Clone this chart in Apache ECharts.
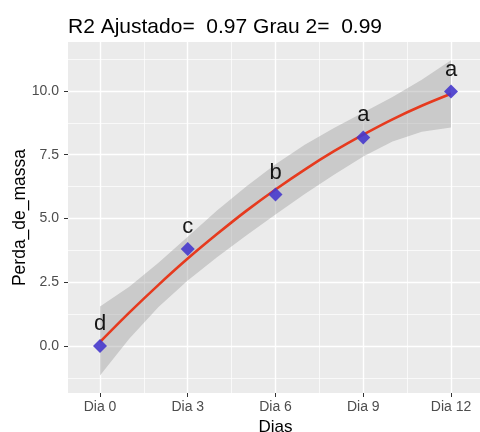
<!DOCTYPE html>
<html>
<head>
<meta charset="utf-8">
<script src="https://cdn.jsdelivr.net/npm/echarts@6/dist/echarts.min.js"></script>
<style>
    html, body { margin: 0; padding: 0; background: #fff; }
    #chart { width: 480px; height: 432px; }
</style>
</head>
<body>
<div id="chart"></div>
<script>
// Observed means per day
const dayLabels = ['Dia 0', 'Dia 3', 'Dia 6', 'Dia 9', 'Dia 12'];
const days = [0, 3, 6, 9, 12];
const massLoss = [0, 3.81, 5.94, 8.18, 9.98];
const groupLetters = ['d', 'c', 'b', 'a', 'a'];

// Fitted curve and confidence band
const fitDays = [0, 1, 2, 3, 4, 5, 6, 7, 8, 9, 10, 11, 12];
const fitValues = [0.16, 1.31, 2.40, 3.43, 4.39, 5.30, 6.14, 6.92, 7.64, 8.29, 8.89, 9.42, 9.89];
const bandLower = [-1.15, 0.29, 1.53, 2.57, 3.48, 4.33, 5.16, 5.96, 6.72, 7.43, 8.02, 8.40, 8.57];
const bandUpper = [1.55, 2.33, 3.27, 4.29, 5.31, 6.26, 7.13, 7.89, 8.55, 9.16, 9.76, 10.44, 11.20];

// Axis ticks
const yTicks = [0, 2.5, 5, 7.5, 10];
const yMinorTicks = [-1.25, 1.25, 3.75, 6.25, 8.75, 11.25];
const xMinorTicks = [1.5, 4.5, 7.5, 10.5];

const FONT = 'Liberation Sans, Arial, sans-serif';
const X_MIN = -1.094, X_MAX = 13.094;
const Y_MIN = -1.84, Y_MAX = 11.92;

const chart = echarts.init(document.getElementById('chart'));

const pair = (xs, ys) => xs.map((x, i) => [x, ys[i]]);

// Confidence ribbon: one polygon, upper edge then lower edge reversed
function renderBand(params, api) {
    const upper = fitDays.map((d, i) => api.coord([d, bandUpper[i]]));
    const lower = fitDays.map((d, i) => api.coord([d, bandLower[i]])).reverse();
    return {
        type: 'polygon',
        shape: { points: upper.concat(lower) },
        style: { fill: 'rgba(153,153,153,0.4)' }
    };
}

const option = {
    animation: false,
    title: {
        text: 'R2 Ajustado=  0.97 Grau 2=  0.99',
        left: 63,
        top: 12,
        textStyle: { fontFamily: FONT, fontSize: 21, fontWeight: 'normal', color: '#000' }
    },
    grid: {
        left: 68, right: -3, top: 42, bottom: 39,
        outerBoundsMode: 'none',
        show: true, backgroundColor: '#EBEBEB', borderWidth: 0
    },
    xAxis: [{
        type: 'value',
        min: X_MIN, max: X_MAX,
        name: 'Dias',
        nameLocation: 'middle',
        nameGap: 26,
        nameMoveOverlap: false,
        nameTextStyle: { fontFamily: FONT, fontSize: 17, color: '#000' },
        axisLine: { show: false, onZero: false },
        axisTick: { show: true, length: 4, customValues: days, lineStyle: { color: '#333', width: 1 } },
        axisLabel: {
            customValues: days,
            margin: 7,
            fontFamily: FONT, fontSize: 14, color: '#4D4D4D',
            formatter: v => dayLabels[days.indexOf(v)] || ''
        },
        splitLine: { show: true, lineStyle: { color: '#fff', width: 1.4 } }
    }, {
        type: 'value',
        min: X_MIN, max: X_MAX,
        position: 'top',
        axisLine: { show: false, onZero: false },
        axisTick: { show: false, customValues: xMinorTicks },
        axisLabel: { show: false, customValues: xMinorTicks },
        splitLine: { show: true, lineStyle: { color: '#fff', width: 0.7 } }
    }],
    yAxis: [{
        type: 'value',
        min: Y_MIN, max: Y_MAX,
        name: 'Perda_de_massa',
        nameLocation: 'middle',
        nameGap: 39,
        nameMoveOverlap: false,
        nameTextStyle: { fontFamily: FONT, fontSize: 17.5, color: '#000' },
        axisLine: { show: false, onZero: false },
        axisTick: { show: true, length: 4, customValues: yTicks, lineStyle: { color: '#333', width: 1 } },
        axisLabel: {
            customValues: yTicks,
            margin: 9,
            fontFamily: FONT, fontSize: 14, color: '#4D4D4D',
            formatter: v => v.toFixed(1)
        },
        splitLine: { show: true, lineStyle: { color: '#fff', width: 1.4 } }
    }, {
        type: 'value',
        min: Y_MIN, max: Y_MAX,
        position: 'right',
        axisLine: { show: false, onZero: false },
        axisTick: { show: false, customValues: yMinorTicks },
        axisLabel: { show: false, customValues: yMinorTicks },
        splitLine: { show: true, lineStyle: { color: '#fff', width: 0.7 } }
    }],
    series: [
        {
            name: 'band',
            type: 'custom',
            renderItem: renderBand,
            data: [[fitDays[0], bandLower[0]]],
            silent: true,
            z: 1
        },
        {
            name: 'fit',
            type: 'line',
            data: pair(fitDays, fitValues),
            showSymbol: false,
            smooth: 0.3,
            lineStyle: { color: '#E63A1E', width: 2.6 },
            z: 2
        },
        {
            name: 'mean',
            type: 'scatter',
            data: pair(days, massLoss),
            symbol: 'diamond',
            symbolSize: 14,
            itemStyle: { color: '#4638CC', opacity: 0.9 },
            label: {
                show: true,
                position: 'top',
                distance: 4,
                fontFamily: FONT, fontSize: 22, color: '#000',
                formatter: p => groupLetters[p.dataIndex]
            },
            z: 3
        }
    ]
};

chart.setOption(option);
window.addEventListener('resize', () => chart.resize());
</script>
</body>
</html>
